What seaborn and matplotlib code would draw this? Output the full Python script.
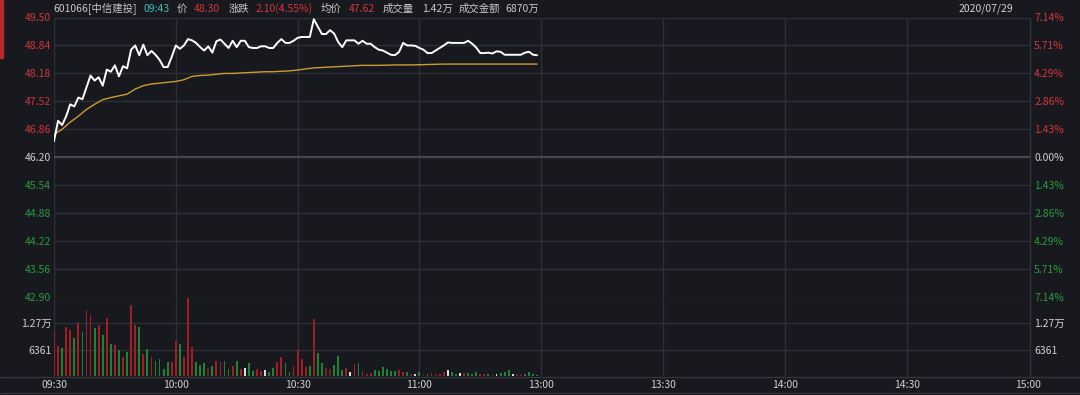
import matplotlib
matplotlib.use("Agg")
import matplotlib.pyplot as plt
from matplotlib.lines import Line2D
from matplotlib.patches import Rectangle
import seaborn as sns
import pandas as pd

# ---------------- data ----------------
price = [46.58, 47.06, 46.96, 47.17, 47.45, 47.40, 47.61, 47.57, 47.85, 48.13,
         48.01, 48.09, 47.89, 48.27, 48.22, 48.37, 48.11, 48.35, 48.30, 48.74,
         48.84, 48.61, 48.86, 48.61, 48.71, 48.62, 48.50, 48.33, 48.33, 48.57,
         48.84, 48.76, 48.84, 48.99, 48.96, 48.90, 48.80, 48.72, 48.82, 48.67,
         48.94, 48.98, 48.88, 48.78, 48.95, 48.80, 48.95, 48.95, 48.80, 48.78,
         48.78, 48.82, 48.82, 48.78, 48.78, 48.90, 48.99, 48.90, 48.90, 48.95,
         49.02, 49.04, 49.04, 49.04, 49.46, 49.28, 49.11, 49.11, 49.20, 49.12,
         48.92, 48.80, 48.96, 48.96, 48.96, 48.88, 48.95, 48.88, 48.88, 48.80,
         48.74, 48.72, 48.67, 48.62, 48.61, 48.69, 48.90, 48.84, 48.84, 48.83,
         48.78, 48.74, 48.66, 48.66, 48.72, 48.78, 48.84, 48.91, 48.90, 48.90,
         48.90, 48.90, 48.95, 48.88, 48.79, 48.66, 48.66, 48.67, 48.65, 48.70,
         48.69, 48.62, 48.62, 48.62, 48.62, 48.62, 48.67, 48.69, 48.62, 48.61]

avg_minutes = [0, 2, 4, 6, 8, 10, 12, 14, 16, 18, 20, 22, 24, 26, 28, 30, 32, 34,
               36, 38, 40, 42, 44, 46, 48, 50, 52, 54, 56, 58, 60, 64, 68, 72, 76,
               80, 84, 88, 92, 96, 100, 104, 108, 112, 116, 119]
avg_price = [46.74, 46.86, 47.03, 47.17, 47.33, 47.45, 47.56, 47.61, 47.65, 47.69,
             47.81, 47.89, 47.93, 47.95, 47.97, 47.99, 48.03, 48.11, 48.13, 48.14,
             48.16, 48.18, 48.18, 48.19, 48.20, 48.21, 48.22, 48.22, 48.23, 48.24,
             48.26, 48.31, 48.33, 48.35, 48.37, 48.37, 48.38, 48.38, 48.39, 48.40,
             48.40, 48.40, 48.40, 48.40, 48.40, 48.40]

volume = [10960, 7250, 6690, 11770, 11200, 9270, 12820, 10640, 15960, 14750,
          11690, 12410, 9990, 13940, 7660, 7420, 6200, 4670, 5880, 17170,
          12410, 11850, 5320, 6610, 4670, 3710, 4110, 1770, 3300, 3470,
          8540, 7660, 4510, 18940, 7010, 3470, 2660, 3060, 2020, 2500,
          3710, 3470, 3710, 1690, 2500, 3630, 1690, 1930, 3060, 1210,
          1690, 1210, 1530, 1050, 1850, 3470, 4510, 3060, 1050, 2420,
          6290, 4110, 2260, 2420, 13780, 5480, 3140, 1930, 1690, 2740,
          4760, 1370, 2020, 970, 2900, 3140, 1210, 560, 725, 1450,
          1290, 2180, 1770, 1210, 1210, 1450, 970, 970, 560, 560,
          890, 400, 560, 725, 400, 560, 1050, 1370, 970, 400,
          725, 725, 725, 400, 890, 560, 560, 400, 400, 560,
          725, 1050, 1370, 560, 560, 400, 560, 890, 400, 300]

vol_dir = list("rrgrrgrgrr" "grgrgrgrgr" "rgrgrggggr" "rgrrrgggdg"
               "rrggrgrwgg" "rrwggrrggr" "rrrgrggddg" "ggrwrgrrrg"
               "gggggrrgdw" "gdgrdrrwgg" "wrgggrrgdw" "gggwddgggg")

price_levels = [49.50, 48.84, 48.18, 47.52, 46.86, 46.20, 45.54, 44.88, 44.22, 43.56, 42.90]
price_labels = ["49.50", "48.84", "48.18", "47.52", "46.86", "46.20",
                "45.54", "44.88", "44.22", "43.56", "42.90"]
pct_labels = ["7.14%", "5.71%", "4.29%", "2.86%", "1.43%", "0.00%",
              "1.43%", "2.86%", "4.29%", "5.71%", "7.14%"]
vol_levels = [12722, 6361]
vol_labels = ["1.27万", "6361"]
vol_top = 19083
time_ticks = [0, 30, 60, 90, 120, 150, 180, 210, 240]
time_labels = ["09:30", "10:00", "10:30", "11:00", "13:00", "13:30", "14:00", "14:30", "15:00"]

header = [("601066[中信建投]", 53, "#c8c8c8"), ("09:43", 143, "#3cbcbc"),
          ("价", 177, "#c8c8c8"), ("48.30", 194, "#d2353d"),
          ("涨跌", 229, "#c8c8c8"), ("2.10(4.55%)", 256, "#d2353d"),
          ("均价", 321, "#c8c8c8"), ("47.62", 349, "#d2353d"),
          ("成交量", 383, "#c8c8c8"), ("1.42万", 422, "#c8c8c8"),
          ("成交金额", 459, "#c8c8c8"), ("6870万", 505, "#c8c8c8")]
date_text = "2020/07/29"

# ---------------- style ----------------
BG = "#17191e"
GRID = "#2c2f36"
RED = "#d2353d"
GREEN = "#2a9a3c"
WHITE = "#d0d0d0"
sns.set_theme(style="dark")
plt.rcParams["font.family"] = ["Noto Sans CJK SC", "DejaVu Sans"]
plt.rcParams["axes.unicode_minus"] = False

W, H = 1080, 395
fig = plt.figure(figsize=(W / 100, H / 100), dpi=100, facecolor=BG)

def fy(py):
    return 1 - py / H

L, R = 54, 1030
ax_p = fig.add_axes([L / W, fy(297), (R - L) / W, (297 - 17.5) / H], facecolor=BG)
ax_v = fig.add_axes([L / W, fy(376), (R - L) / W, (376 - 297) / H], facecolor=BG)
XMAX = 240.4

for ax in (ax_p, ax_v):
    for s in ax.spines.values():
        s.set_visible(False)
    ax.grid(False)
    ax.set_xlim(0, XMAX)
    for t in time_ticks[1:-1]:
        ax.axvline(t, color=GRID, lw=1.0, zorder=0)
    ax.axvline(0.05, color=GRID, lw=1.0, zorder=0)

# price panel grid
for lv in price_levels:
    lw, c = (1.6, "#45484f") if abs(lv - 46.20) < 1e-6 else (1.0, GRID)
    ax_p.axhline(lv, color=c, lw=lw, zorder=0)
ax_p.set_ylim(42.90, 49.50)

minutes = list(range(len(price)))
df_p = pd.DataFrame({"minute": minutes, "price": price})
df_a = pd.DataFrame({"minute": avg_minutes, "avg": avg_price})
sns.lineplot(data=df_a, x="minute", y="avg", ax=ax_p, color="#c99e2c", lw=1.0, zorder=3)
sns.lineplot(data=df_p, x="minute", y="price", ax=ax_p, color="white", lw=1.4, zorder=4)
ax_p.set_xlim(0, XMAX)
ax_p.set_xlabel("")
ax_p.set_ylabel("")
ax_p.set_xticks([])

label_colors = [RED] * 5 + [WHITE] + [GREEN] * 5
ax_p.set_yticks(price_levels)
ax_p.set_yticklabels(price_labels)
ax_p.tick_params(axis="y", length=0, pad=2, labelsize=7.5)
for lab, c in zip(ax_p.get_yticklabels(), label_colors):
    lab.set_color(c)

ax_pr = ax_p.twinx()
for s in ax_pr.spines.values():
    s.set_visible(False)
ax_pr.grid(False)
ax_pr.set_ylim(42.90, 49.50)
ax_pr.set_yticks(price_levels)
ax_pr.set_yticklabels(pct_labels)
ax_pr.tick_params(axis="y", length=0, pad=3, labelsize=7.5)
for lab, c in zip(ax_pr.get_yticklabels(), label_colors):
    lab.set_color(c)

# volume panel
for lv in vol_levels:
    ax_v.axhline(lv, color=GRID, lw=1.0, zorder=0)
df_v = pd.DataFrame({"minute": minutes, "vol": volume, "dir": vol_dir})
pal = {"r": "#9e1f26", "g": "#1f8234", "w": "#dcdcdc", "d": "#6e2226"}
sns.barplot(data=df_v, x="minute", y="vol", hue="dir", palette=pal, ax=ax_v,
            native_scale=True, dodge=False, width=0.45, errorbar=None,
            legend=False, linewidth=0, saturation=1, zorder=3)
ax_v.set_xlim(0, XMAX)
ax_v.set_ylim(0, vol_top)
ax_v.set_xlabel("")
ax_v.set_ylabel("")
ax_v.set_yticks(vol_levels)
ax_v.set_yticklabels(vol_labels)
ax_v.tick_params(axis="y", length=0, pad=2, labelsize=7.5, labelcolor=WHITE)
ax_v.set_xticks(time_ticks)
ax_v.set_xticklabels(time_labels)
ax_v.tick_params(axis="x", length=0, pad=3, labelsize=7.5, labelcolor=WHITE)

ax_vr = ax_v.twinx()
for s in ax_vr.spines.values():
    s.set_visible(False)
ax_vr.grid(False)
ax_vr.set_ylim(0, vol_top)
ax_vr.set_yticks(vol_levels)
ax_vr.set_yticklabels(vol_labels)
ax_vr.tick_params(axis="y", length=0, pad=3, labelsize=7.5, labelcolor=WHITE)

# frame lines
fig.add_artist(Line2D([0, 1], [fy(376.5), fy(376.5)], color="#33363d", lw=1.0))
fig.add_artist(Line2D([0, 1], [fy(393), fy(393)], color="#33363d", lw=1.0))
fig.add_artist(Line2D([R / W, R / W], [fy(376.5), fy(17.5)], color="#33363d", lw=1.0))
fig.add_artist(Rectangle((0, fy(58)), 2.5 / W, 58 / H, color="#b8282e", transform=fig.transFigure))

# header
for txt, x, c in header:
    fig.text(x / W, fy(8.5), txt, color=c, fontsize=7.5, ha="left", va="center")
fig.text(1013 / W, fy(8.5), date_text, color=WHITE, fontsize=7.5, ha="right", va="center")

fig.savefig("out.png", dpi=100, facecolor=BG)
